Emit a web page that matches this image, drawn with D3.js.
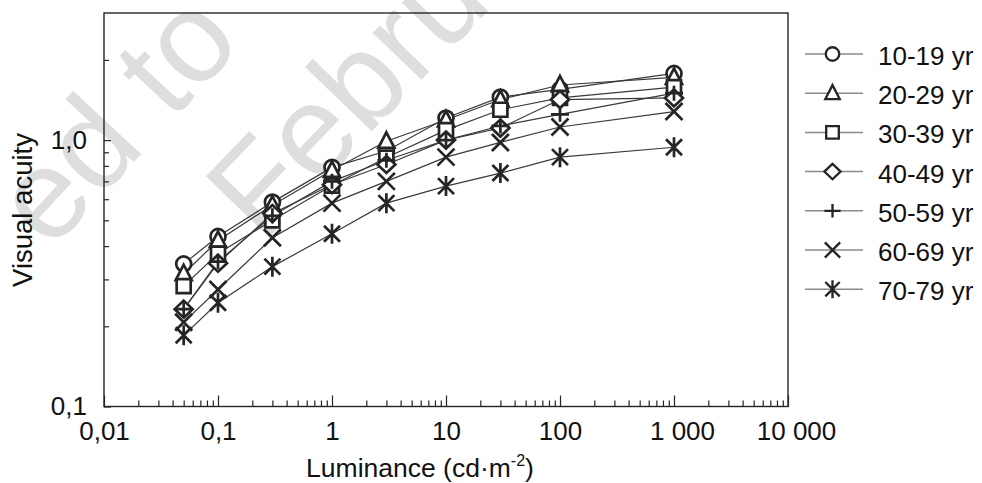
<!DOCTYPE html>
<html>
<head>
<meta charset="utf-8">
<script src="https://cdn.jsdelivr.net/npm/d3@7"></script>
<style>
  html, body { margin: 0; padding: 0; background: #fff; }
  svg { display: block; font-family: "Liberation Sans", Arial, sans-serif; }
</style>
</head>
<body>
<svg id="chart" width="982" height="483"></svg>
<script>
// Luminance levels (cd·m-2) at which acuity was measured
const luminance = [0.05, 0.1, 0.3, 1, 3, 10, 30, 100, 1000];

// Age groups and their visual acuity at each luminance level
const ageGroups = ["10-19 yr", "20-29 yr", "30-39 yr", "40-49 yr", "50-59 yr", "60-69 yr", "70-79 yr"];
const acuity10to19 = [0.343, 0.435, 0.585, 0.79, 0.91, 1.21, 1.45, 1.55, 1.78];
const acuity20to29 = [0.315, 0.42, 0.57, 0.77, 0.99, 1.19, 1.42, 1.61, 1.72];
const acuity30to39 = [0.283, 0.375, 0.50, 0.675, 0.86, 1.09, 1.30, 1.44, 1.58];
const acuity40to49 = [0.232, 0.345, 0.53, 0.68, 0.81, 1.00, 1.11, 1.42, 1.44];
const acuity50to59 = [0.232, 0.35, 0.52, 0.70, 0.84, 1.00, 1.13, 1.25, 1.50];
const acuity60to69 = [0.207, 0.275, 0.43, 0.58, 0.70, 0.863, 0.98, 1.12, 1.28];
const acuity70to79 = [0.185, 0.245, 0.335, 0.445, 0.58, 0.672, 0.752, 0.863, 0.94];
const symbols = ["circle", "triangle", "square", "diamond", "plus", "cross", "asterisk"];

// Axis ticks and labels
const xTickValues = [0.01, 0.1, 1, 10, 100, 1000, 10000];
const xTickLabels = ["0,01", "0,1", "1", "10", "100", "1 000", "10 000"];
const yTickValues = [0.1, 1];
const yTickLabels = ["0,1", "1,0"];
const yMinorValues = [0.2, 0.3, 0.4, 0.5, 0.6, 0.7, 0.8, 0.9, 2];

const seriesValues = [acuity10to19, acuity20to29, acuity30to39, acuity40to49,
                      acuity50to59, acuity60to69, acuity70to79];
const series = ageGroups.map((name, i) => ({
  name, symbol: symbols[i],
  points: luminance.map((l, j) => [l, seriesValues[i][j]])
}));

const svg = d3.select("#chart");
svg.append("rect").attr("width", 982).attr("height", 483).attr("fill", "#fff");

const plot = { left: 104, right: 788, top: 13, bottom: 406.5 };
const x = d3.scaleLog().domain([0.01, 10000]).range([plot.left, plot.right]);
const y = d3.scaleLog().domain([0.1, 3]).range([plot.bottom, plot.top]);

// faint background stamp text
const stamp = svg.append("g").attr("fill", "#dedede").attr("font-size", 128);
stamp.append("text").attr("transform", "translate(50,252) rotate(-47)").text("ed to");
stamp.append("text").attr("transform", "translate(262,245) rotate(-46)").text("Febru");

const ink = "#252525";

// minor x ticks: 2..9 within each decade
const xMinor = [];
xTickValues.slice(0, -1).forEach(d => { for (let k = 2; k <= 9; k++) xMinor.push(k * d); });

const xAxisMinor = d3.axisBottom(x).tickValues(xMinor).tickSize(-6).tickFormat("");
const xAxisMajor = d3.axisBottom(x).tickValues(xTickValues).tickSize(-11).tickPadding(15)
  .tickFormat((d, i) => xTickLabels[i]);

const gxMinor = svg.append("g").attr("transform", `translate(0,${plot.bottom})`).call(xAxisMinor);
const gxMajor = svg.append("g").attr("transform", `translate(0,${plot.bottom})`).call(xAxisMajor);
[gxMinor, gxMajor].forEach(g => {
  g.select(".domain").remove();
  g.selectAll(".tick line").attr("stroke", ink).attr("stroke-width", 1.2);
});
gxMajor.selectAll(".tick text")
  .attr("font-size", 26).attr("fill", "#111")
  .attr("font-family", "Liberation Sans, Arial, sans-serif")
  .attr("dx", (d, i) => (xTickLabels[i].includes(" ") ? 8 : 0));

const yAxisMinor = d3.axisLeft(y).tickValues(yMinorValues).tickSize(-5).tickFormat("");
const yAxisMajor = d3.axisLeft(y).tickValues(yTickValues).tickSize(-7).tickPadding(17)
  .tickFormat((d, i) => yTickLabels[i]);
const gyMinor = svg.append("g").attr("transform", `translate(${plot.left},0)`).call(yAxisMinor);
const gyMajor = svg.append("g").attr("transform", `translate(${plot.left},0)`).call(yAxisMajor);
[gyMinor, gyMajor].forEach(g => {
  g.select(".domain").remove();
  g.selectAll(".tick line").attr("stroke", ink).attr("stroke-width", 1.2);
});
gyMajor.selectAll(".tick text")
  .attr("font-size", 26).attr("fill", "#111")
  .attr("font-family", "Liberation Sans, Arial, sans-serif");

// plot frame
svg.append("rect")
  .attr("x", plot.left).attr("y", plot.top)
  .attr("width", plot.right - plot.left).attr("height", plot.bottom - plot.top)
  .attr("fill", "none").attr("stroke", ink).attr("stroke-width", 1.4);

// axis titles
const xTitle = svg.append("text")
  .attr("x", 420).attr("y", 477).attr("text-anchor", "middle")
  .attr("font-size", 26.5).attr("fill", "#111");
xTitle.append("tspan").text("Luminance (cd·m");
xTitle.append("tspan").attr("font-size", 16).attr("dy", -11).text("-2");
xTitle.append("tspan").attr("dy", 11).text(")");

svg.append("text")
  .attr("transform", "translate(32,210) rotate(-90)")
  .attr("text-anchor", "middle").attr("font-size", 27.5).attr("fill", "#111")
  .text("Visual acuity");

// marker shapes centred on the origin
function symbolPath(type) {
  switch (type) {
    case "circle": return "M7.5,0A7.5,7.5 0 1,1 -7.5,0A7.5,7.5 0 1,1 7.5,0Z";
    case "triangle": return "M0,-9L8,6.5L-8,6.5Z";
    case "square": return "M-7,-7H7V7H-7Z";
    case "diamond": return "M0,-8.5L9,0L0,8.5L-9,0Z";
    case "plus": return "M-9,0H9M0,-7.5V7.5";
    case "cross": return "M-8.5,-8.5L8.5,8.5M-8.5,8.5L8.5,-8.5";
    case "asterisk": return "M-8,-8L8,8M-8,8L8,-8M0,-10V10";
  }
}
const openShape = t => t === "plus" || t === "cross" || t === "asterisk";

const line = d3.line().x(d => x(d[0])).y(d => y(d[1]));

// connecting lines
svg.append("g").selectAll("path.series")
  .data(series).join("path")
  .attr("class", "series")
  .attr("d", d => line(d.points))
  .attr("fill", "none").attr("stroke", "#3a3a3a").attr("stroke-width", 1.2);

// markers
series.forEach(s => {
  svg.append("g").selectAll("path")
    .data(s.points).join("path")
    .attr("transform", d => `translate(${x(d[0])},${y(d[1])})`)
    .attr("d", symbolPath(s.symbol))
    .attr("fill", openShape(s.symbol) ? "none" : "#fff")
    .attr("stroke", ink).attr("stroke-width", 2.7)
    .attr("stroke-linejoin", "miter");
});

// legend
const legend = svg.append("g");
series.forEach((s, i) => {
  const ly = 54 + i * 39.2;
  const row = legend.append("g").attr("transform", `translate(0,${ly})`);
  row.append("line").attr("x1", 805).attr("x2", 863).attr("y1", 0).attr("y2", 0)
    .attr("stroke", "#8a8a8a").attr("stroke-width", 1.5);
  row.append("path").attr("transform", "translate(832.5,0)")
    .attr("d", symbolPath(s.symbol))
    .attr("transform", "translate(832.5,0) scale(0.9)")
    .attr("fill", openShape(s.symbol) ? "none" : "#fff")
    .attr("stroke", ink).attr("stroke-width", 2.6);
  row.append("text").attr("x", 878).attr("y", 2)
    .attr("dominant-baseline", "central")
    .attr("font-size", 26).attr("fill", "#111").text(s.name);
});
</script>
</body>
</html>
